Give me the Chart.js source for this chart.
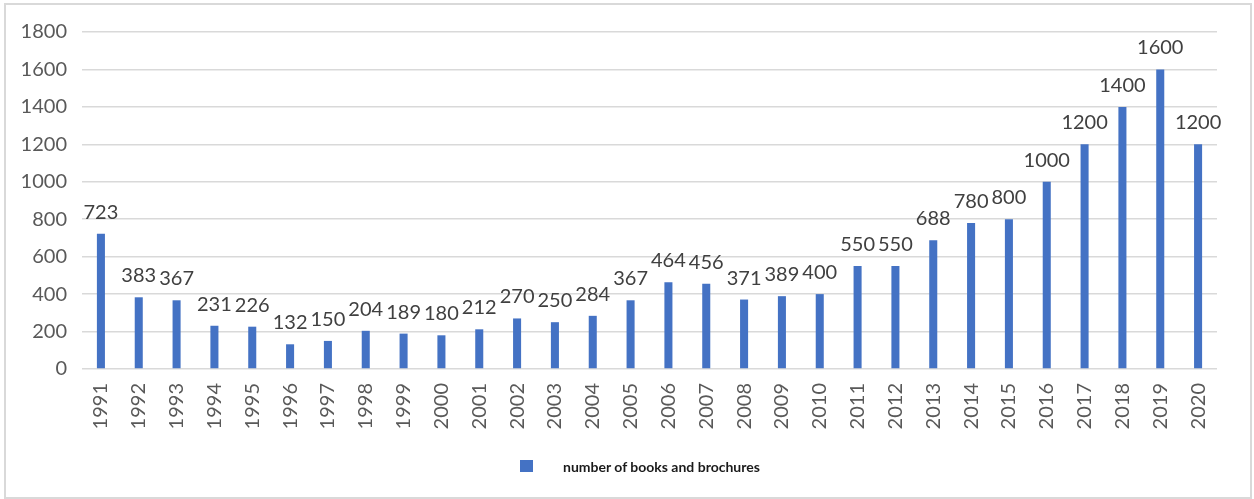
<!DOCTYPE html>
<html>
<head>
<meta charset="utf-8">
<script src="https://cdn.jsdelivr.net/npm/chart.js@4/dist/chart.umd.min.js"></script>
<style>
  body { margin: 0; background: #fff; }
  #frame {
    position: absolute; left: 4px; top: 3px;
    width: 1244px; height: 492px;
    border: 2px solid #d9d9d9;
  }
  #frame canvas { display: block; }
  #legend {
    position: absolute; left: 520px; top: 457px;
    font: bold 14px Lato, sans-serif; color: #1a1a1a;
    display: flex; align-items: center; height: 18px;
  }
  #legend .swatch { width: 13px; height: 12px; background: #4472C4; margin-right: 30px; }
</style>
</head>
<body>
<div id="frame"><canvas id="bar-chart" width="1244" height="492"></canvas></div>
<div id="legend"><span class="swatch"></span><span>number of books and brochures</span></div>
<script>
var years = ['1991','1992','1993','1994','1995','1996','1997','1998','1999','2000',
             '2001','2002','2003','2004','2005','2006','2007','2008','2009','2010',
             '2011','2012','2013','2014','2015','2016','2017','2018','2019','2020'];
var books = [723, 383, 367, 231, 226, 132, 150, 204, 189, 180,
             212, 270, 250, 284, 367, 464, 456, 371, 389, 400,
             550, 550, 688, 780, 800, 1000, 1200, 1400, 1600, 1200];
var seriesName = 'number of books and brochures';

// write each bar's value just above it
var valueLabels = {
  id: 'valueLabels',
  afterDatasetsDraw: function(chart) {
    var ctx = chart.ctx;
    var meta = chart.getDatasetMeta(0);
    ctx.save();
    ctx.font = '20px Lato, sans-serif';
    ctx.fillStyle = '#404040';
    ctx.textAlign = 'center';
    ctx.textBaseline = 'alphabetic';
    meta.data.forEach(function(bar, i) {
      ctx.fillText(String(chart.data.datasets[0].data[i]), bar.x, bar.y - 15);
    });
    ctx.restore();
  }
};

function barChart() {
  var canvas = document.getElementById('bar-chart');
  new Chart(canvas, {
    type: 'bar',
    data: {
      labels: years,
      datasets: [{
        label: seriesName,
        data: books,
        backgroundColor: '#4472C4',
        barPercentage: 0.85,
        categoryPercentage: 0.25
      }]
    },
    options: {
      responsive: false,
      animation: false,
      layout: { padding: { top: 25, right: 33, bottom: 0, left: 0 } },
      plugins: {
        legend: { display: false },
        tooltip: { enabled: false }
      },
      scales: {
        x: {
          grid: { display: false, drawTicks: false },
          border: { display: false },
          ticks: {
            color: '#595959',
            font: { family: 'Lato', size: 20 },
            minRotation: 90, maxRotation: 90,
            padding: 14,
            autoSkip: false
          },
          afterFit: function(scale) { scale.height = 128; }
        },
        y: {
          min: 0, max: 1800,
          grid: { color: '#d9d9d9', lineWidth: 1.5, drawTicks: false },
          border: { display: false },
          ticks: {
            stepSize: 200,
            color: '#595959',
            font: { family: 'Lato', size: 20 },
            padding: 15,
            callback: function(v) { return String(v); }
          },
          afterFit: function(scale) { scale.width = 76; }
        }
      }
    },
    plugins: [valueLabels]
  });
}

barChart();
</script>
</body>
</html>
